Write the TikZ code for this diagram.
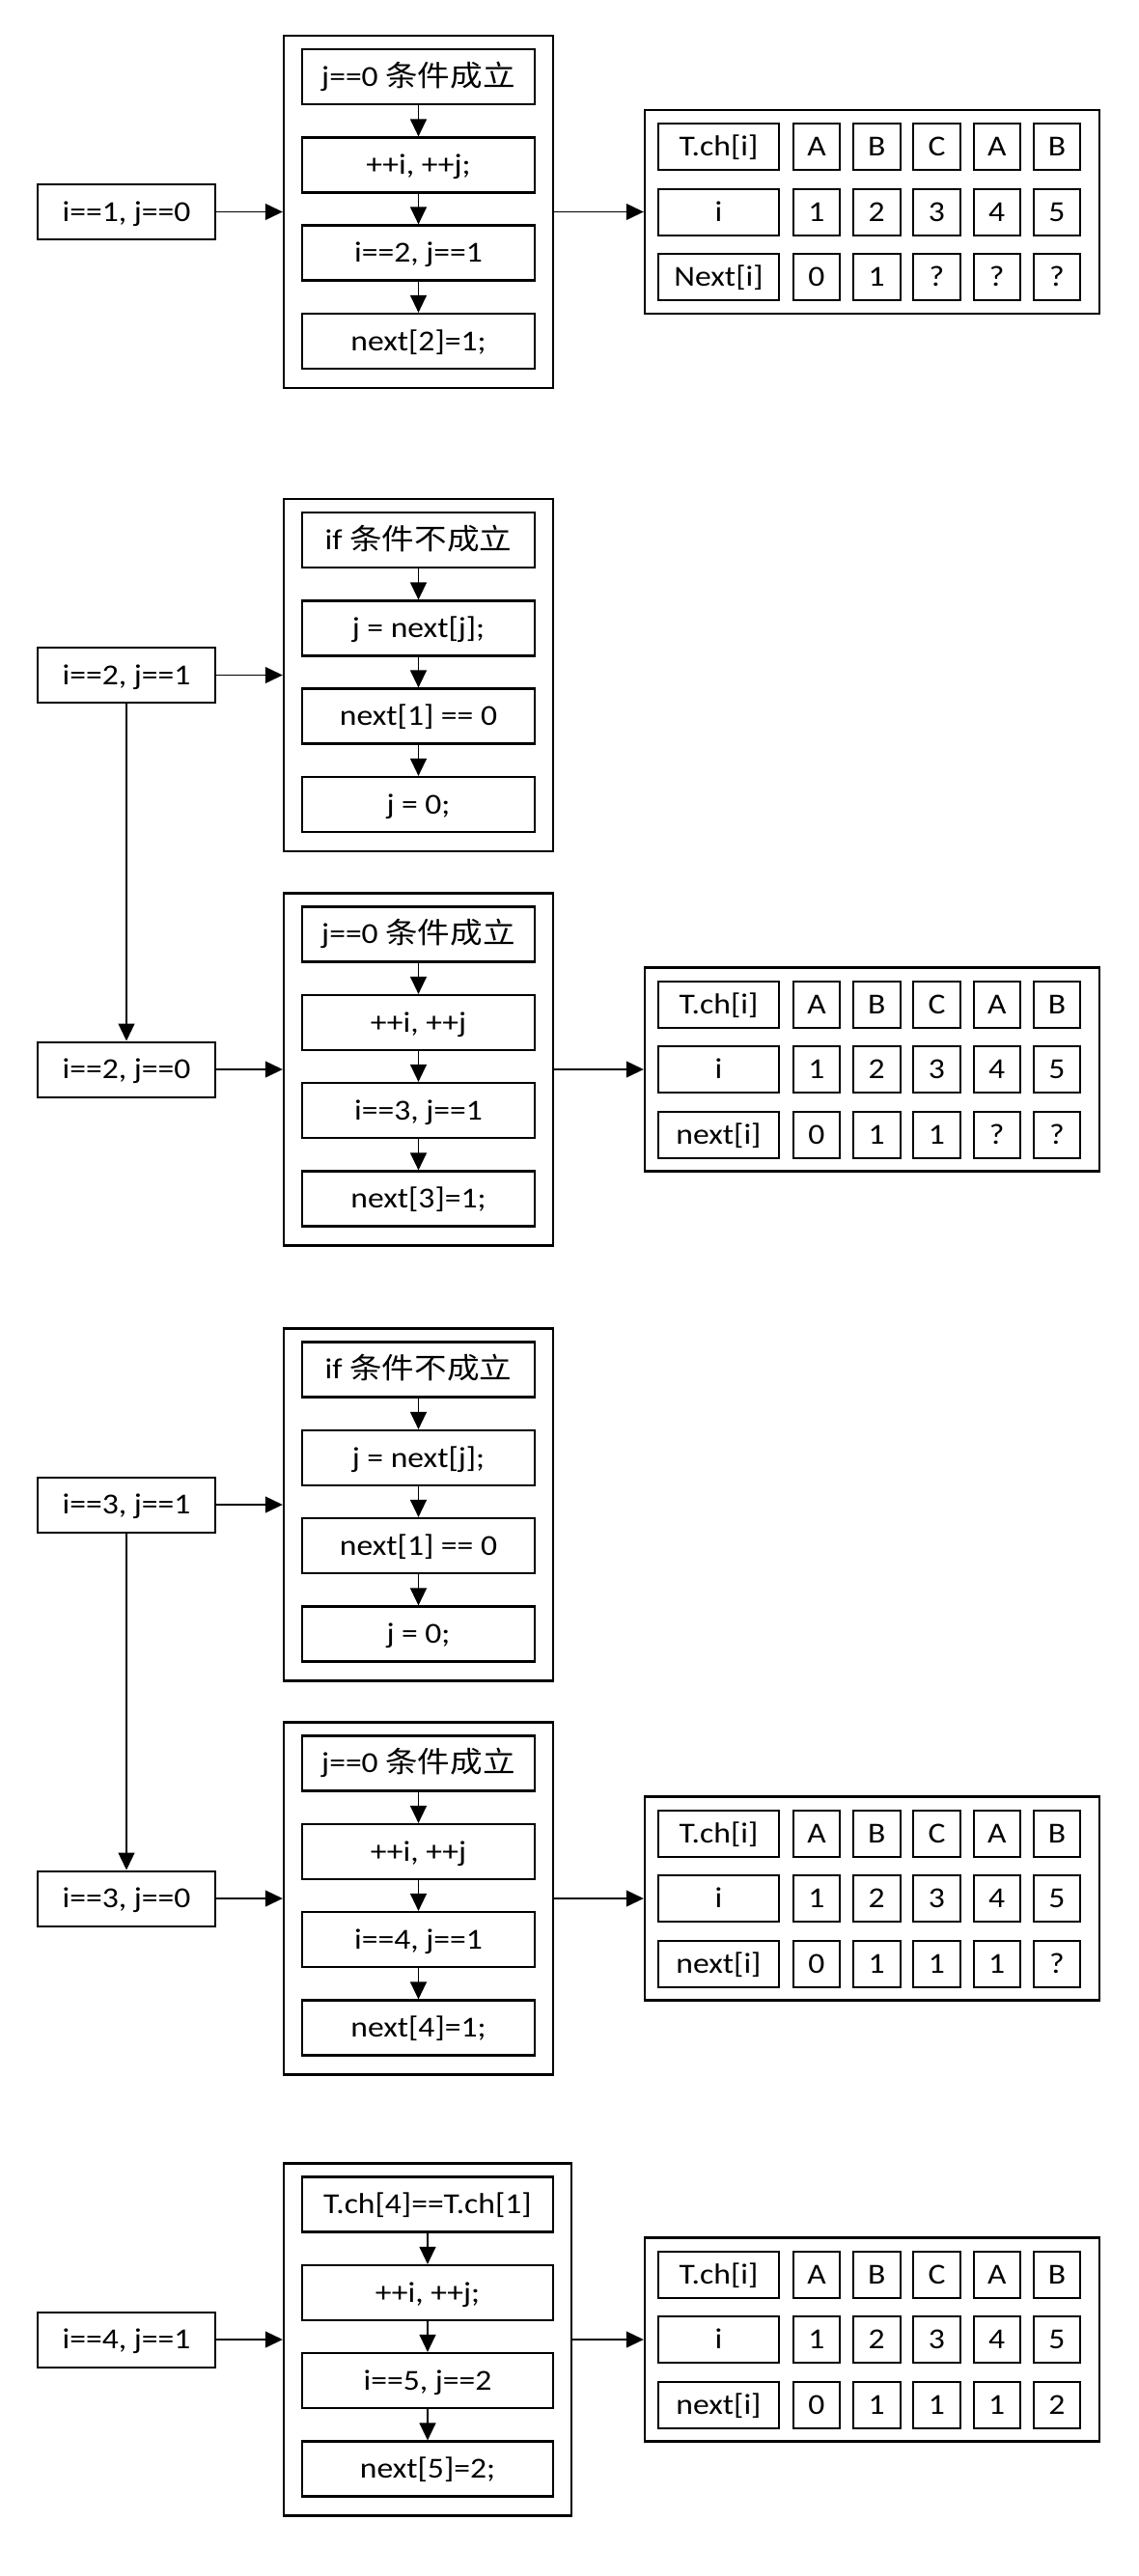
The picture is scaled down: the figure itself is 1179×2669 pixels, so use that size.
\documentclass[tikz,border=0pt]{standalone}
\usepackage{fontspec}
\setmainfont{Carlito}[FakeStretch=1.12]
\newfontfamily\cjk{Noto Sans CJK SC}[FakeStretch=1.12]
\usetikzlibrary{arrows.meta}

\tikzset{
  every node/.style={font=\fontsize{30}{36}\selectfont, text height=24pt, text depth=5pt, inner sep=0pt},
  lbox/.style={draw, line width=2pt, minimum width=184pt, minimum height=57pt},
  outerbox/.style={draw, line width=2.4pt, minimum height=365pt},
  ibox/.style={draw, line width=2.2pt, minimum height=57pt},
  tframe/.style={draw, line width=2.4pt, minimum width=471pt, minimum height=211pt},
  hcell/.style={draw, line width=2pt, minimum width=125pt, minimum height=48pt},
  vcell/.style={draw, line width=2pt, minimum width=48.5pt, minimum height=48pt},
  conn/.style={line width=1.2pt, -{Triangle[length=18pt,width=17pt]}},
}

% a framed stack of four steps joined by arrows
% #1 name, #2 centre x, #3 centre y, #4 frame width, #5-#8 step texts
\newcommand\stepstack[8]{%
  \node[outerbox, minimum width=#4pt] (#1) at (#2,#3) {};
  \node[ibox, minimum width={(#4-38)*1pt}] (#1a) at (#2,#3-140) {#5};
  \node[ibox, minimum width={(#4-38)*1pt}] (#1b) at (#2,#3-48.5) {#6};
  \node[ibox, minimum width={(#4-38)*1pt}] (#1c) at (#2,#3+42.5) {#7};
  \node[ibox, minimum width={(#4-38)*1pt}] (#1d) at (#2,#3+134) {#8};
  \draw[conn] (#1a.south) -- (#1b.north);
  \draw[conn] (#1b.south) -- (#1c.north);
  \draw[conn] (#1c.south) -- (#1d.north);
}

% the pattern table: characters, indices and next values
% #1 name, #2 centre y, #3 label of the third row, #4 next values
\newcommand\statetable[4]{%
  \node[tframe] (#1) at (903.5,#2) {};
  \node[hcell] (#1h1) at (744.5,#2-67.5) {T.ch[i]};
  \node[hcell] (#1h2) at (744.5,#2) {i};
  \node[hcell] (#1h3) at (744.5,#2+67.5) {#3};
  \foreach \v [count=\k] in {A,B,C,A,B}
    \node[vcell] (#1a\k) at (846+62.25*\k-62.25,#2-67.5) {\v};
  \foreach \v [count=\k] in {1,2,3,4,5}
    \node[vcell] (#1b\k) at (846+62.25*\k-62.25,#2) {\v};
  \foreach \v [count=\k] in {#4}
    \node[vcell] (#1c\k) at (846+62.25*\k-62.25,#2+67.5) {\v};
}

\begin{document}
\begin{tikzpicture}[x=1pt,y=-1pt]
\fill[white] (0,0) rectangle (1179,2669);
\useasboundingbox (0,0) rectangle (1179,2669);

% i = 1, j = 0
\node[lbox] (l1) at (131,219.5) {i==1, j==0};
\stepstack{f1}{433.5}{219.5}{279}{j==0 {\cjk 条件成立}}{++i, ++j;}{i==2, j==1}{next[2]=1;}
\statetable{t1}{219.5}{Next[i]}{0,1,?,?,?}
\draw[conn] (l1.east) -- (f1.west);
\draw[conn] (f1.east) -- (t1.west);

% i = 2, j = 1
\node[lbox] (l2) at (131,699.5) {i==2, j==1};
\stepstack{f2}{433.5}{699.5}{279}{if {\cjk 条件不成立}}{j = next[j];}{next[1] == 0}{j = 0;}
\draw[conn] (l2.east) -- (f2.west);

% i = 2, j = 0
\node[lbox] (l3) at (131,1108) {i==2, j==0};
\stepstack{f3}{433.5}{1108}{279}{j==0 {\cjk 条件成立}}{++i, ++j}{i==3, j==1}{next[3]=1;}
\statetable{t3}{1108}{next[i]}{0,1,1,?,?}
\draw[conn] (l2.south) -- (l3.north);
\draw[conn] (l3.east) -- (f3.west);
\draw[conn] (f3.east) -- (t3.west);

% i = 3, j = 1
\node[lbox] (l4) at (131,1559) {i==3, j==1};
\stepstack{f4}{433.5}{1559}{279}{if {\cjk 条件不成立}}{j = next[j];}{next[1] == 0}{j = 0;}
\draw[conn] (l4.east) -- (f4.west);

% i = 3, j = 0
\node[lbox] (l5) at (131,1967) {i==3, j==0};
\stepstack{f5}{433.5}{1967}{279}{j==0 {\cjk 条件成立}}{++i, ++j}{i==4, j==1}{next[4]=1;}
\statetable{t5}{1967}{next[i]}{0,1,1,1,?}
\draw[conn] (l4.south) -- (l5.north);
\draw[conn] (l5.east) -- (f5.west);
\draw[conn] (f5.east) -- (t5.west);

% i = 4, j = 1
\node[lbox] (l6) at (131,2424) {i==4, j==1};
\stepstack{f6}{443}{2424}{298}{T.ch[4]==T.ch[1]}{++i, ++j;}{i==5, j==2}{next[5]=2;}
\statetable{t6}{2424}{next[i]}{0,1,1,1,2}
\draw[conn] (l6.east) -- (f6.west);
\draw[conn] (f6.east) -- (t6.west);
\end{tikzpicture}
\end{document}
